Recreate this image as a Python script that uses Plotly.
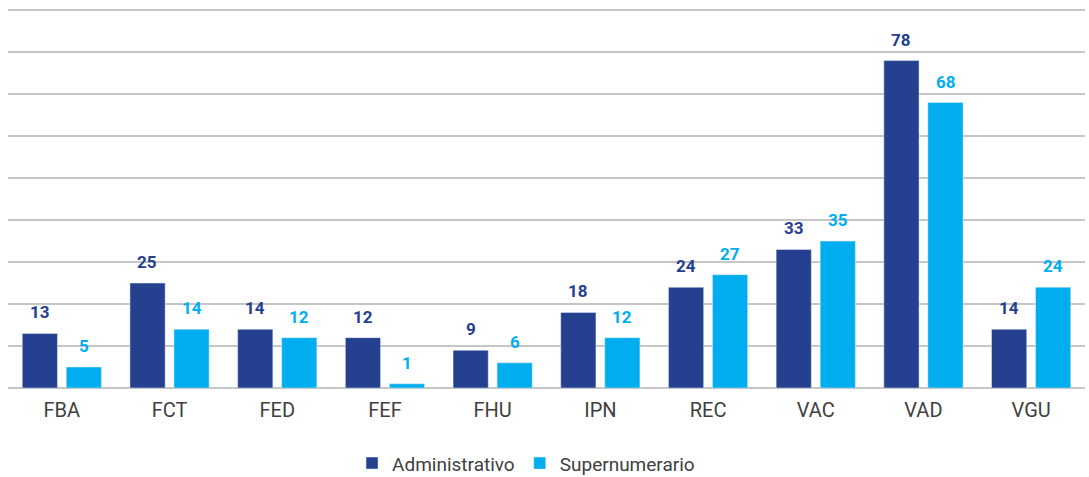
import plotly.graph_objects as go

categories = ["FBA", "FCT", "FED", "FEF", "FHU", "IPN", "REC", "VAC", "VAD", "VGU"]
administrativo = [13, 25, 14, 12, 9, 18, 24, 33, 78, 14]
supernumerario = [5, 14, 12, 1, 6, 12, 27, 35, 68, 24]

DARK = "#25408F"
LIGHT = "#00AEEF"
FONT = "Roboto, Arial, sans-serif"

fig = go.Figure()
fig.add_trace(go.Bar(name="Administrativo", x=categories, y=administrativo,
                     marker_color=DARK, offsetgroup=0))
fig.add_trace(go.Bar(name="Supernumerario", x=categories, y=supernumerario,
                     marker_color=LIGHT, offsetgroup=1))

annotations = []
for i, c in enumerate(categories):
    for vals, col, xs in ((administrativo, DARK, -0.205), (supernumerario, LIGHT, 0.205)):
        annotations.append(dict(x=i + xs, y=vals[i], xref="x", yref="y", text=f"<b>{vals[i]}</b>",
                                showarrow=False, yanchor="bottom", yshift=9,
                                font=dict(family=FONT, size=17, color=col)))

fig.update_layout(
    width=1089, height=477,
    margin=dict(l=8, r=4, t=6, b=89, autoexpand=False),
    paper_bgcolor="white", plot_bgcolor="white",
    barmode="group", bargap=0.183, bargroupgap=0.2,
    font=dict(family=FONT, size=19, color="#404040"),
    showlegend=True,
    legend=dict(orientation="h", x=0.481, xanchor="center", y=-0.197, yanchor="middle",
                font=dict(family=FONT, size=19, color="#404040"), itemwidth=30,
                traceorder="normal"),
    annotations=annotations,
)
fig.update_xaxes(showgrid=False, ticks="", showline=False, automargin=False,
                 ticklabelstandoff=8, tickfont=dict(size=20, color="#404040"))
fig.update_yaxes(range=[0, 91], dtick=10, showgrid=True, gridcolor="#c6c6c6", gridwidth=1.5,
                 automargin=False, showticklabels=False, zeroline=True,
                 zerolinecolor="#c6c6c6", zerolinewidth=1.5)

post = (
    "document.documentElement.style.margin='0';document.documentElement.style.padding='0';"
    "document.documentElement.style.height='477px';document.documentElement.style.overflow='hidden';"
    "document.body.style.margin='0';document.body.style.padding='0';"
    "document.body.style.height='477px';document.body.style.overflow='hidden';"
)
fig.write_html("out.html", config={"displayModeBar": False}, post_script=post)
